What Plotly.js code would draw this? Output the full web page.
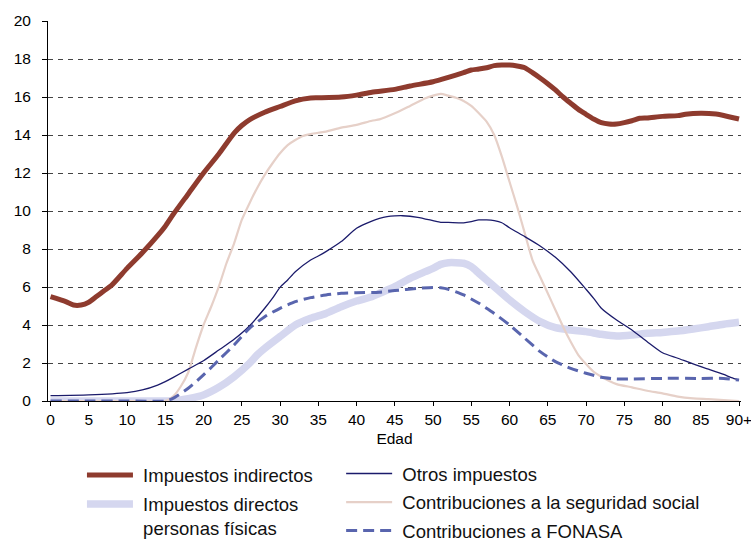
<!DOCTYPE html>
<html>
<head>
<meta charset="utf-8">
<script src="https://cdn.plot.ly/plotly-3.0.1.min.js"></script>
<style>
  html, body { margin: 0; padding: 0; background: #fff; }
  #chart { width: 751px; height: 541px; }
</style>
</head>
<body>
<div id="chart"></div>
<script>
// ---- Data ----
var tickAges = [0,5,10,15,20,25,30,35,40,45,50,55,60,65,70,75,80,85,90];
var tickLabels = ["0","5","10","15","20","25","30","35","40","45","50","55","60","65","70","75","80","85","90+"];

var indirectosAges = [0,2,3,4,5,6,7,8,10,12,14,15,16,18,20,22,24,25,26,28,30,32,34,35,38,40,42,45,47,50,52,54,55,56,57,58,59,60,61,62,63,64,65,66,67,68,69,70,71,72,73,74,75,76,77,78,80,82,83,85,87,88,90];
var indirectosVals = [5.49,5.23,5.05,5.05,5.2,5.5,5.8,6.1,6.98,7.8,8.7,9.2,9.8,10.9,12.0,13.0,14.1,14.5,14.8,15.2,15.5,15.8,15.95,15.96,16.0,16.1,16.25,16.4,16.58,16.8,17.03,17.28,17.42,17.47,17.54,17.65,17.68,17.68,17.63,17.54,17.28,17.0,16.7,16.37,16.0,15.67,15.35,15.09,14.84,14.65,14.58,14.58,14.65,14.75,14.88,14.9,14.98,15.02,15.09,15.14,15.1,15.03,14.84];

var otrosAges = [0,5,10,12,14,15,16,18,20,22,24,26,28,29,30,31,32,34,35,36,38,40,42,43,44,45,46,48,50,51,52,54,55,56,57,58,59,60,62,64,66,68,70,71,72,74,76,78,80,82,84,86,88,89,90];
var otrosVals = [0.28,0.32,0.44,0.58,0.84,1.02,1.23,1.68,2.12,2.68,3.25,3.95,4.88,5.4,5.98,6.37,6.8,7.42,7.63,7.86,8.39,9.09,9.47,9.61,9.7,9.74,9.75,9.67,9.49,9.4,9.4,9.38,9.44,9.53,9.53,9.49,9.38,9.12,8.65,8.16,7.56,6.8,5.88,5.4,4.88,4.26,3.74,3.12,2.54,2.25,1.95,1.68,1.4,1.23,1.1];

var segSocialAges = [0,5,10,15,16,17,18,19,20,21,22,23,24,25,26,27,28,29,30,31,32,33,34,35,36,38,40,42,43,45,47,49,50,51,52,53,54,55,56,57,58,59,60,61,62,63,64,65,66,67,68,69,70,71,72,74,76,78,80,82,84,86,88,90];
var segSocialVals = [0,0,0,0,0.23,0.75,1.5,2.8,4.0,4.96,6.02,7.25,8.3,9.53,10.4,11.2,11.9,12.5,13.04,13.47,13.74,13.95,14.05,14.12,14.18,14.39,14.53,14.75,14.82,15.14,15.53,15.93,16.07,16.16,16.07,15.96,15.79,15.53,15.14,14.7,14.0,12.86,11.54,10.23,8.82,7.42,6.54,5.67,4.79,3.91,3.12,2.42,1.95,1.54,1.28,0.89,0.72,0.54,0.4,0.23,0.14,0.1,0.05,0.0];

var directosAges = [0,5,10,15,16,17,18,20,22,24,26,27,28,30,32,34,36,38,40,42,43,45,47,49,50,51,52,54,55,56,57,58,60,62,64,66,68,70,72,74,76,78,80,82,84,86,88,90];
var directosVals = [0,0,0,0,0,0.05,0.12,0.32,0.72,1.28,1.98,2.42,2.77,3.39,4.0,4.35,4.61,4.96,5.26,5.49,5.67,6.02,6.46,6.81,6.98,7.19,7.28,7.25,7.07,6.72,6.37,6.02,5.32,4.7,4.18,3.86,3.74,3.65,3.51,3.42,3.47,3.56,3.61,3.68,3.79,3.91,4.04,4.14];

var fonasaAges = [0,5,10,15,16,18,20,22,24,26,28,30,32,34,36,38,40,43,45,48,50,51,52,54,56,58,60,62,64,66,68,70,72,74,76,80,85,88,90];
var fonasaVals = [0,0,0,0,0.14,0.67,1.37,2.16,2.95,3.82,4.44,4.88,5.23,5.44,5.58,5.67,5.7,5.73,5.81,5.93,5.98,5.96,5.88,5.58,5.14,4.61,4.0,3.3,2.6,2.07,1.72,1.46,1.25,1.16,1.16,1.19,1.19,1.19,1.1];

var yTicks = [0,2,4,6,8,10,12,14,16,18,20];

// ---- Traces ----
var FONT = "Liberation Sans, Arial, sans-serif";
var PAD = "\u00a0";
function tr(x, y, name, color, width, dash, legend, rank) {
  return {
    type: "scatter", mode: "lines", x: x, y: y, name: PAD + name,
    line: {color: color, width: width, dash: dash || "solid", shape: "spline", smoothing: 0.6},
    legend: legend, legendgroup: name, legendrank: rank, hoverinfo: "skip"
  };
}
var data = [
  tr(directosAges, directosVals, "Impuestos directos<br>" + PAD + "personas físicas", "#D5D7EF", 7.5, null, "legend", 2),
  tr(segSocialAges, segSocialVals, "Contribuciones a la seguridad social", "#E6D0C8", 2.2, null, "legend2", 2),
  tr(indirectosAges, indirectosVals, "Impuestos indirectos", "#8E3B2E", 5, null, "legend", 1),
  tr(otrosAges, otrosVals, "Otros impuestos", "#1B1B6B", 1.3, null, "legend2", 1),
  tr(fonasaAges, fonasaVals, "Contribuciones a FONASA", "#5965AE", 3, "11px,6px", "legend2", 3)
];

var legendBase = {
  orientation: "v", yanchor: "top", xanchor: "left",
  font: {family: FONT, size: 18.5, color: "#111"},
  itemwidth: 46, valign: "top", traceorder: "grouped",
  bgcolor: "rgba(0,0,0,0)", borderwidth: 0
};

var layout = {
  width: 751, height: 541,
  margin: {l: 48, r: 10, t: 21, b: 140, autoexpand: false},
  paper_bgcolor: "#fff", plot_bgcolor: "#fff",
  font: {family: FONT, size: 15.5, color: "#000"},
  showlegend: true,
  legend: Object.assign({}, legendBase, {x: 0.049, y: -0.146, tracegroupgap: 2}),
  legend2: Object.assign({}, legendBase, {x: 0.423, y: -0.142, tracegroupgap: 1.5}),
  xaxis: {
    range: [-0.33, 90.26], tickmode: "array", tickvals: tickAges, ticktext: tickLabels,
    showline: true, linecolor: "#000", linewidth: 1,
    ticks: "outside", ticklen: 4, tickcolor: "#000", tickwidth: 1,
    showgrid: false, zeroline: false, ticklabeloverflow: "allow",
    tickfont: {family: FONT, size: 15.5, color: "#000"},
    title: {text: "Edad", font: {family: FONT, size: 15.5, color: "#000"}, standoff: 6}
  },
  yaxis: {
    range: [0, 20], tickmode: "array", tickvals: yTicks,
    showline: true, linecolor: "#000", linewidth: 1,
    ticks: "outside", ticklen: 5, tickcolor: "#000", tickwidth: 1,
    showgrid: true, gridcolor: "#444", gridwidth: 1, griddash: "5px,5px",
    zeroline: false, ticklabelstandoff: 8,
    tickfont: {family: FONT, size: 15.5, color: "#000"}
  },
  yaxis2: {
    overlaying: "y", matches: "y", range: [0, 20], tickmode: "array", tickvals: yTicks,
    ticks: "inside", ticklen: 5, tickcolor: "#000", tickwidth: 1,
    showticklabels: false, showgrid: false, zeroline: false, showline: false, side: "left"
  }
};

Plotly.newPlot("chart", data, layout, {staticPlot: true, displayModeBar: false});
</script>
</body>
</html>
